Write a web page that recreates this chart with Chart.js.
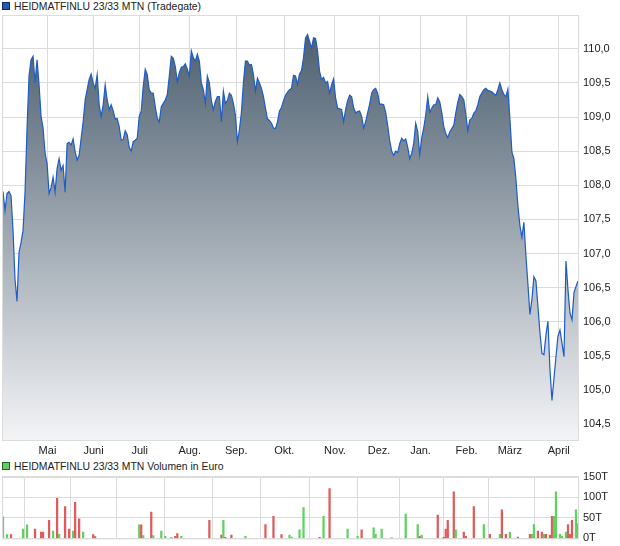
<!DOCTYPE html>
<html>
<head>
<meta charset="utf-8">
<script src="https://cdn.jsdelivr.net/npm/chart.js@4.4.1/dist/chart.umd.min.js"></script>
<style>
  html, body { margin: 0; background: #fff; overflow: hidden; }
  #wrap { position: relative; width: 620px; height: 546px; overflow: hidden; font-family: "Liberation Sans", Arial, sans-serif; }
  .leg { position: absolute; left: 2px; font-size: 10.4px; line-height: 12px; color: #222; white-space: nowrap; }
  .leg i { display: inline-block; width: 6px; height: 6px; border: 1px solid; margin-right: 4px; vertical-align: 0; }
  canvas { position: absolute; left: 0; }
</style>
</head>
<body>
<div id="wrap">
  <div class="leg" style="top:1px"><i style="background:#2457b0;border-color:#0c2a66"></i>HEIDMATFINLU 23/33 MTN (Tradegate)</div>
  <canvas id="priceChart" width="620" height="460" style="top:0"></canvas>
  <div class="leg" style="top:461px"><i style="background:#62cc62;border-color:#1f6a1f"></i>HEIDMATFINLU 23/33 MTN Volumen in Euro</div>
  <canvas id="volChart" width="620" height="90" style="top:460px"></canvas>
</div>
<script>
// month labels and where each month starts (trading-day index)
const months = ['Mai', 'Juni', 'Juli', 'Aug.', 'Sep.', 'Okt.', 'Nov.', 'Dez.', 'Jan.', 'Feb.', 'März', 'April'];
const monthStart = [22.2, 45.2, 68.2, 93.2, 116.4, 140.4, 165.7, 187.7, 208.4, 231.4, 253, 277.4];

// daily price (Tradegate)
const prices = [
  107.91, 107.63, 107.88, 107.91, 107.85, 107.34, 106.62, 106.30, 107.02, 107.16,
  107.34, 107.90, 108.84, 109.60, 109.84, 109.89, 109.50, 109.84, 109.47, 109.01,
  108.84, 108.47, 108.32, 107.88, 107.97, 108.12, 107.90, 108.25, 108.39, 108.22,
  108.29, 107.90, 108.61, 108.63, 108.59, 108.68, 108.49, 108.37, 108.44, 108.69,
  108.93, 109.25, 109.40, 109.55, 109.63, 109.50, 109.42, 109.62, 109.18, 109.01,
  109.18, 109.47, 109.25, 109.11, 109.18, 109.09, 108.97, 108.98, 108.86, 108.66,
  108.67, 108.80, 108.74, 108.56, 108.50, 108.64, 108.66, 108.69, 109.01, 109.09,
  109.45, 109.70, 109.62, 109.40,
  109.35, 109.35, 109.15, 108.98, 108.93, 109.15, 109.20, 109.25, 109.33, 109.60,
  109.89, 109.86, 109.74, 109.52, 109.65, 109.73, 109.74, 109.78, 109.70, 109.60,
  109.97, 109.87, 109.82, 109.92, 109.82, 109.50, 109.40, 109.20, 109.60, 109.50,
  109.24, 109.11, 109.23, 109.30, 109.30, 108.93, 109.38, 109.20, 109.24, 109.35,
  109.32, 109.20, 109.03, 108.64, 108.81, 109.07, 109.50, 109.82, 109.82, 109.76,
  109.77, 109.62, 109.38, 109.57, 109.50, 109.42, 109.30, 109.13, 108.97, 108.95,
  108.91, 108.84, 108.83, 108.93, 109.09, 109.14, 109.24, 109.32, 109.36, 109.40,
  109.42, 109.61, 109.60, 109.48, 109.63, 109.68, 109.87, 110.16, 110.21, 110.11,
  110.01, 110.16, 110.15, 109.97, 109.67, 109.55, 109.58, 109.50, 109.52, 109.35,
  109.47, 109.56, 109.28, 109.13, 109.12, 109.11, 108.93, 109.11, 109.24, 109.32,
  109.30, 109.14, 109.06, 109.08, 109.09, 109.01, 108.84, 108.93, 109.06, 109.19,
  109.35, 109.40, 109.42, 109.35, 109.19, 109.19, 109.18, 109.07, 108.88, 108.66,
  108.50, 108.44, 108.50, 108.48, 108.61, 108.69, 108.65, 108.68, 108.56, 108.39,
  108.47, 108.61, 108.91, 108.79, 108.45, 108.69, 108.84, 109.03, 109.30, 109.07,
  109.13, 109.18,
  109.18, 109.28, 109.22, 109.07, 108.86, 108.76, 108.70, 108.78, 108.83, 108.88,
  109.06, 109.22, 109.33, 109.30, 109.25, 109.04, 108.80, 108.96, 108.98, 109.06,
  109.09, 109.18, 109.30, 109.35, 109.40, 109.42, 109.39, 109.38, 109.37, 109.34,
  109.32, 109.40, 109.50, 109.40, 109.33, 109.30, 109.41, 108.98, 108.49, 108.39,
  108.10, 107.70, 107.41, 107.24, 107.46, 106.97, 106.55, 106.11, 106.33, 106.66,
  106.60, 106.23, 105.84, 105.54, 105.52, 105.81, 106.01, 105.30, 104.85, 105.17,
  105.49, 105.79, 105.88, 105.69, 105.49, 106.89, 106.47, 106.13, 106.03, 106.43,
  106.52, 106.60
];
const priceTicks = [104.5, 105.0, 105.5, 106.0, 106.5, 107.0, 107.5, 108.0, 108.5, 109.0, 109.5, 110.0];

// volume: day index, amount in euro, up day (1) or down day (0)
const volDay = [0, 2, 4, 10, 12, 16, 19, 20, 23, 25, 27, 28, 31, 33, 35, 36, 38, 40, 45, 46,
  68, 69, 70, 74, 75, 79, 81, 84, 86, 87, 89, 103, 109, 110, 111, 114, 121, 131, 135, 139,
  143, 144, 148, 150, 158, 160, 163, 172, 177, 179, 185, 186, 189, 194, 201, 207, 208, 209, 217, 220,
  221, 222, 225, 226, 230, 231, 235, 240, 243, 248, 249, 251, 253, 257, 263, 264, 265, 267, 269, 270,
  271, 273, 274, 275, 276, 278, 279, 281, 282, 283, 284, 286, 287];
const volAmt = [53000, 9500, 9500, 23000, 33000, 23000, 15500, 15500, 44000, 18000, 98000, 10000, 77600, 23000, 18000, 88000, 48000, 15500, 9500, 4300,
  33000, 33000, 7000, 64000, 7000, 18000, 5000, 2600, 5000, 12000, 5000, 44000, 8000, 44000, 2600, 8000, 5000, 34000, 54000, 9500,
  8000, 3400, 21000, 75000, 2600, 54000, 121500, 23000, 5000, 21000, 26000, 10000, 23000, 1000, 59500, 34000, 5000, 8000, 57000, 2600,
  23000, 44000, 114000, 21000, 15500, 5000, 77600, 34000, 10000, 10000, 70000, 10000, 15500, 3400, 10000, 10000, 34000, 18000, 15500, 10000,
  10000, 8000, 54000, 54000, 114000, 10000, 5000, 15500, 34000, 10000, 44000, 70000, 36000];
const volUp = [1, 1, 0, 1, 1, 0, 0, 0, 0, 1, 0, 1, 0, 0, 1, 0, 0, 1, 0, 0,
  1, 0, 1, 0, 1, 1, 1, 1, 0, 0, 1, 0, 0, 1, 0, 0, 1, 0, 0, 0,
  1, 1, 1, 1, 0, 1, 0, 1, 1, 0, 1, 1, 1, 0, 1, 1, 0, 1, 0, 0,
  0, 0, 0, 1, 0, 0, 0, 1, 0, 1, 0, 0, 1, 0, 0, 1, 1, 0, 0, 1,
  0, 0, 0, 1, 1, 1, 1, 1, 0, 0, 0, 1, 1];
const volTicks = [0, 50000, 100000, 150000];

Chart.defaults.font.family = '"Liberation Sans", Arial, sans-serif';
Chart.defaults.font.size = 11;
Chart.defaults.color = '#222';
Chart.defaults.animation = false;

const gridColor = '#dcdcdc';

// light frame around the plot area
const frame = {
  id: 'frame',
  beforeDatasetsDraw(chart) {
    const a = chart.chartArea;
    const c = chart.ctx;
    c.save();
    c.strokeStyle = gridColor;
    c.lineWidth = 1;
    c.strokeRect(a.left - 0.5, a.top - 0.5, a.right - a.left + 1, a.bottom - a.top + 1);
    c.restore();
  }
};

const monthAxis = {
  type: 'linear',
  min: 0,
  max: prices.length - 1,
  afterBuildTicks: s => { s.ticks = monthStart.map(v => ({ value: v })); },
  grid: { color: gridColor, drawTicks: false },
  border: { display: false }
};

new Chart(document.getElementById('priceChart'), {
  type: 'line',
  data: {
    datasets: [{
      data: prices.map((p, i) => ({ x: i, y: p })),
      borderColor: '#1f5cc8',
      borderWidth: 1.2,
      pointRadius: 0,
      tension: 0,
      fill: 'start',
      backgroundColor: ctx => {
        const a = ctx.chart.chartArea;
        if (!a) return 'rgba(0,0,0,0)';
        const g = ctx.chart.ctx.createLinearGradient(0, a.top, 0, a.bottom);
        g.addColorStop(0, '#46596a');
        g.addColorStop(1, '#f3f4f6');
        return g;
      }
    }]
  },
  options: {
    responsive: false,
    layout: { padding: { left: 3, top: 16, right: 0, bottom: 0 } },
    plugins: { legend: { display: false }, tooltip: { enabled: false } },
    scales: {
      x: Object.assign({}, monthAxis, {
        afterFit: s => { s.height = 20; },
        ticks: { autoSkip: false, maxRotation: 0, padding: 4, callback: (v, i) => months[i] }
      }),
      y: {
        position: 'right',
        min: 104.27,
        max: 110.48,
        afterBuildTicks: s => { s.ticks = priceTicks.map(v => ({ value: v })); },
        afterFit: s => { s.width = 42; },
        grid: { color: gridColor, drawTicks: false },
        border: { display: false },
        ticks: { padding: 5, callback: v => v.toFixed(1).replace('.', ',') }
      }
    }
  },
  plugins: [frame]
});

new Chart(document.getElementById('volChart'), {
  type: 'bar',
  data: {
    datasets: [{
      data: volDay.map((d, i) => ({ x: d, y: volAmt[i] })),
      backgroundColor: volUp.map(u => u ? '#5fd35f' : '#e05c5c'),
      barThickness: 1.6
    }]
  },
  options: {
    responsive: false,
    layout: { padding: { left: 3, top: 17, right: 0, bottom: 0 } },
    plugins: { legend: { display: false }, tooltip: { enabled: false } },
    scales: {
      x: Object.assign({}, monthAxis, {
        offset: false,
        afterFit: s => { s.height = 6; },
        ticks: { display: false }
      }),
      y: {
        position: 'right',
        min: 0,
        max: 150000,
        afterBuildTicks: s => { s.ticks = volTicks.map(v => ({ value: v })); },
        afterFit: s => { s.width = 42; },
        grid: { color: gridColor, drawTicks: false },
        border: { display: false },
        ticks: { padding: 5, callback: v => (v / 1000) + 'T' }
      }
    }
  },
  plugins: [frame]
});
</script>
</body>
</html>
